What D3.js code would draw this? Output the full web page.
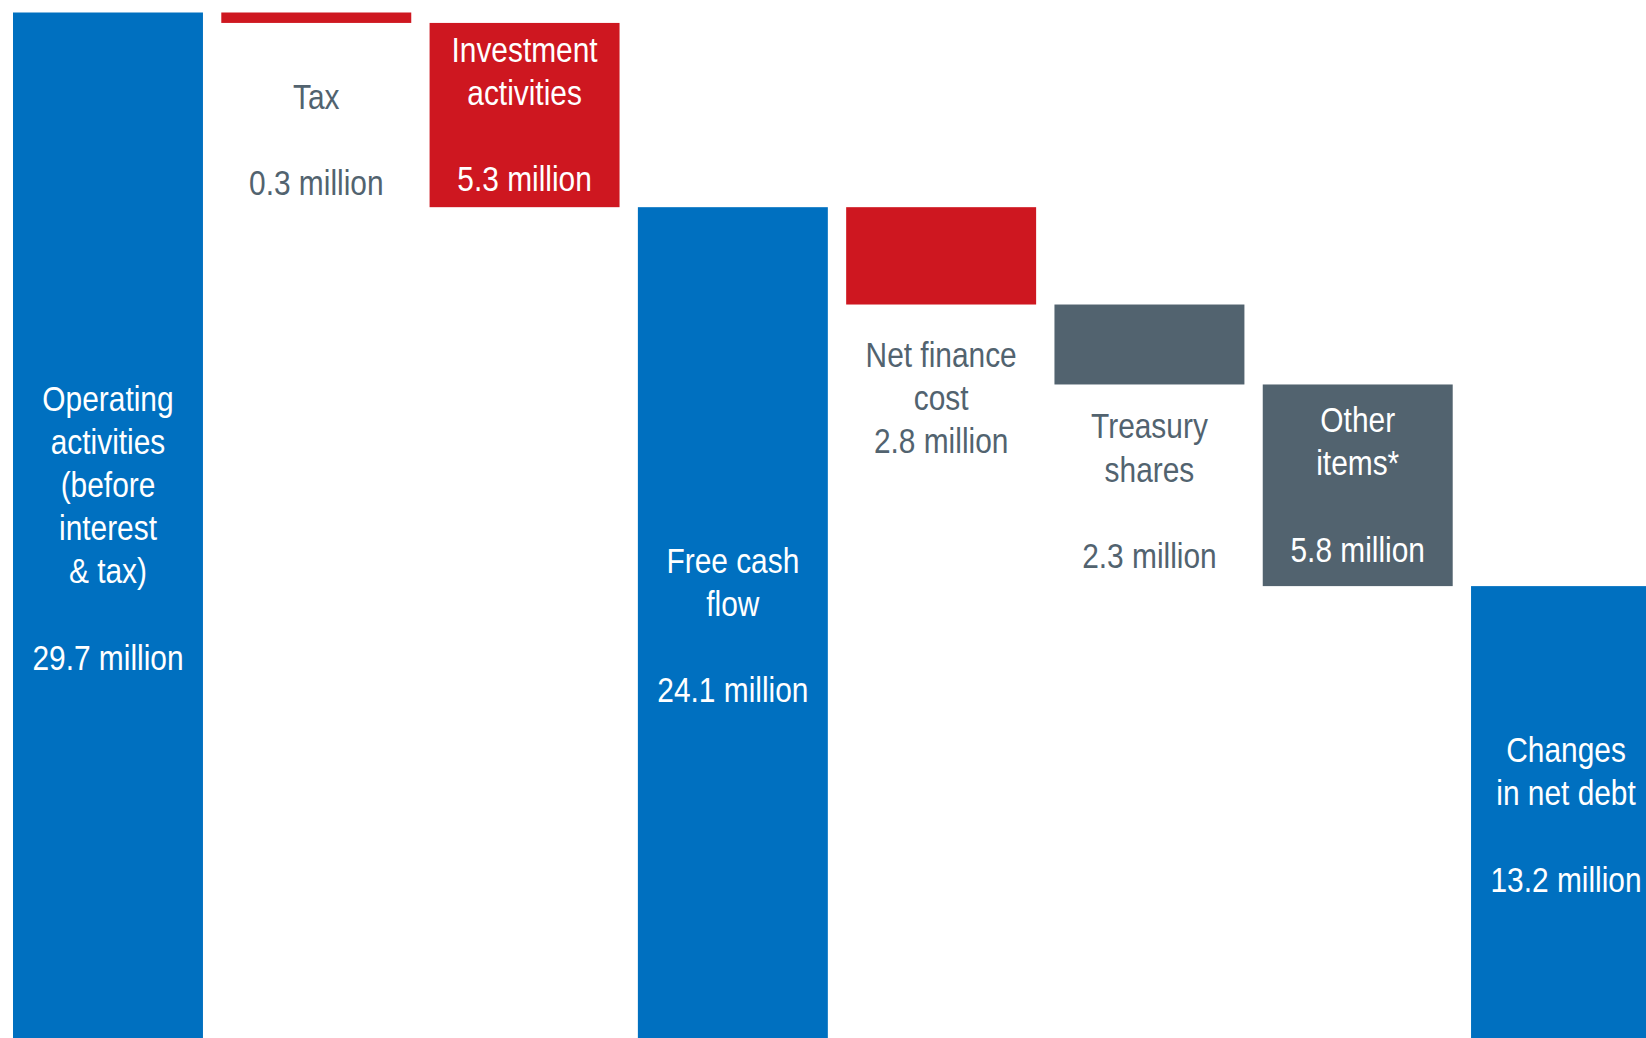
<!DOCTYPE html>
<html>
<head>
<meta charset="utf-8">
<script src="https://cdn.jsdelivr.net/npm/d3@7"></script>
<style>
  html, body { margin: 0; padding: 0; background: #fff; overflow: hidden; }
  text { font-family: "Liberation Sans Narrow", "Arial Narrow", "Liberation Sans", sans-serif; }
</style>
</head>
<body>
<div id="chart"></div>
<script>
// bridge: operating cash flow down to change in net debt (EUR million)
const categories = ["Operating", "Tax", "Investment", "Free cash flow", "Net finance cost", "Treasury shares", "Other items", "Changes in net debt"];
const values = [29.7, -0.3, -5.3, 24.1, -2.8, -2.3, -5.8, 13.2];
const kinds = ["total", "red", "red", "total", "red", "grey", "grey", "total"];
const labels = [
  ["Operating", "activities", "(before", "interest", "& tax)", "", "29.7 million"],
  ["Tax", "", "0.3 million"],
  ["Investment", "activities", "", "5.3 million"],
  ["Free cash", "flow", "", "24.1 million"],
  ["Net finance", "cost", "2.8 million"],
  ["Treasury", "shares", "", "2.3 million"],
  ["Other", "items*", "", "5.8 million"],
  ["Changes", "in net debt", "", "13.2 million"]
];
const labelInside = [true, false, true, true, false, false, true, true];

var width = 1646, height = 1038, fontSize = 36, lineH = 43.2;
// no narrow font installed, so squeeze the regular one
var squeeze = 0.83;

var color = { total: "#0070C0", red: "#CE1720", grey: "#52636F" };
// first baseline below the bar bottom, for labels sitting under a bar
var belowOffset = [0, 86, 0, 0, 62, 54, 0, 0];

var svg = d3.select("#chart").append("svg")
  .attr("width", width)
  .attr("height", height);

var x = d3.scaleBand()
  .domain(categories)
  .range([13, 1661])
  .paddingInner(0.088)
  .paddingOuter(0);

var y = d3.scaleLinear()
  .domain([0, 29.7])
  .range([1045, 12.5]);

// running totals for the floating pieces
var run = 0;
var data = categories.map(function (c, i) {
  var v = values[i], lo, hi;
  if (kinds[i] == "total") { lo = 0; hi = v; run = v; }
  else { hi = run; lo = run + v; run = lo; }
  return { cat: c, lo: lo, hi: hi, kind: kinds[i], lines: labels[i], inside: labelInside[i], i: i };
});

svg.append("g").selectAll("rect")
  .data(data)
  .enter().append("rect")
  .attr("x", d => x(d.cat))
  .attr("width", x.bandwidth())
  .attr("y", d => y(d.hi))
  .attr("height", d => y(d.lo) - y(d.hi))
  .attr("fill", d => color[d.kind]);

var lab = svg.append("g").selectAll("text")
  .data(data)
  .enter().append("text")
  .attr("text-anchor", "middle")
  .attr("font-size", fontSize)
  .attr("fill", d => d.inside ? "#fff" : "#52636F")
  .attr("transform", function (d) {
    var first;
    if (d.inside) {
      var mid = (y(d.lo) + y(d.hi)) / 2;
      var blockH = (d.lines.length - 1) * lineH + fontSize * 0.72;
      first = mid - blockH / 2 + fontSize * 0.72 - 1.5;
    } else {
      first = y(d.lo) + belowOffset[d.i];
    }
    return "translate(" + (x(d.cat) + x.bandwidth() / 2) + "," + first + ") scale(" + squeeze + ",1)";
  });

lab.selectAll("tspan")
  .data(d => d.lines)
  .enter().append("tspan")
  .attr("x", 0)
  .attr("y", (t, j) => j * lineH)
  .text(t => t);
</script>
</body>
</html>
